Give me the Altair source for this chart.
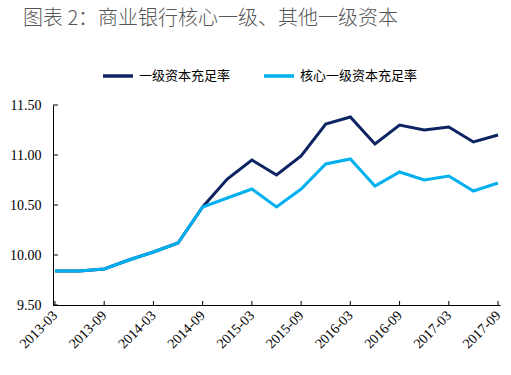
import altair as alt
import pandas as pd

quarters = ["2013-03", "2013-06", "2013-09", "2013-12",
            "2014-03", "2014-06", "2014-09", "2014-12",
            "2015-03", "2015-06", "2015-09", "2015-12",
            "2016-03", "2016-06", "2016-09", "2016-12",
            "2017-03", "2017-06", "2017-09"]
tier1 = [9.84, 9.84, 9.86, 9.95, 10.03, 10.12, 10.48, 10.76,
         10.95, 10.80, 10.99, 11.31, 11.38, 11.11, 11.30, 11.25,
         11.28, 11.13, 11.20]
core_tier1 = [9.84, 9.84, 9.86, 9.95, 10.03, 10.12, 10.48, 10.57,
              10.66, 10.48, 10.66, 10.91, 10.96, 10.69, 10.83, 10.75,
              10.79, 10.64, 10.72]
series_names = ["一级资本充足率", "核心一级资本充足率"]
series_colors = ["#0C2461", "#00B0F0"]
x_labels = quarters[::2]
y_ticks = [9.5, 10.0, 10.5, 11.0, 11.5]
title_text = "图表 2：商业银行核心一级、其他一级资本"

rows = []
for q, a, b in zip(quarters, tier1, core_tier1):
    rows.append({"q": q, "v": a, "s": series_names[0]})
    rows.append({"q": q, "v": b, "s": series_names[1]})
df = pd.DataFrame(rows)

W, H = 447, 200

xscale = alt.Scale(type="point", domain=quarters, padding=0.08)
yscale = alt.Scale(domain=[9.5, 11.5], zero=False, nice=False)

lines = alt.Chart(df).mark_line(strokeWidth=3).encode(
    x=alt.X("q:O", scale=xscale,
            axis=alt.Axis(values=x_labels, title=None, labelAngle=-45,
                          labelAlign="right", labelBaseline="middle",
                          labelFont="Liberation Serif", labelFontSize=14,
                          labelColor="#000000", labelPadding=8,
                          ticks=False, tickSize=0,
                          domainColor="#000000", domainWidth=1)),
    y=alt.Y("v:Q", scale=yscale,
            axis=alt.Axis(values=y_ticks, format=".2f", title=None,
                          labelFont="Liberation Serif", labelFontSize=14,
                          labelColor="#000000", labelPadding=12,
                          ticks=False, tickSize=0, grid=False,
                          domainColor="#000000", domainWidth=1)),
    color=alt.Color("s:N", scale=alt.Scale(domain=series_names, range=series_colors),
                    legend=alt.Legend(title=None, orient="none", direction="horizontal",
                                      legendX=48, legendY=-46,
                                      symbolType="stroke", symbolSize=900,
                                      symbolStrokeWidth=3.5,
                                      labelFont="Noto Sans CJK SC", labelFontSize=13,
                                      labelColor="#000000", labelOffset=4,
                                      columnPadding=26, padding=0)),
)

ytick_df = pd.DataFrame({"v": y_ticks})
yticks = alt.Chart(ytick_df).mark_rule(color="#000000", strokeWidth=1).encode(
    y=alt.Y("v:Q", scale=yscale),
    x=alt.value(0), x2=alt.value(5),
)

xtick_df = pd.DataFrame({"q": x_labels})
xticks = alt.Chart(xtick_df).mark_rule(color="#000000", strokeWidth=1).encode(
    x=alt.X("q:O", scale=xscale),
    y=alt.value(H), y2=alt.value(H - 4),
)

chart = alt.layer(lines, yticks, xticks).properties(
    width=W, height=H,
    autosize=alt.AutoSizeParams(type="none"),
    padding={"left": 53, "top": 105, "right": 11, "bottom": 70},
    title=alt.TitleParams(title_text, anchor="start", frame="group",
                          font="Noto Sans CJK SC", fontSize=20,
                          fontWeight=300, color="#555555",
                          dx=-30, offset=30),
).configure_view(stroke=None)

chart.save("out.html", embed_options={"renderer": "svg", "actions": False})
